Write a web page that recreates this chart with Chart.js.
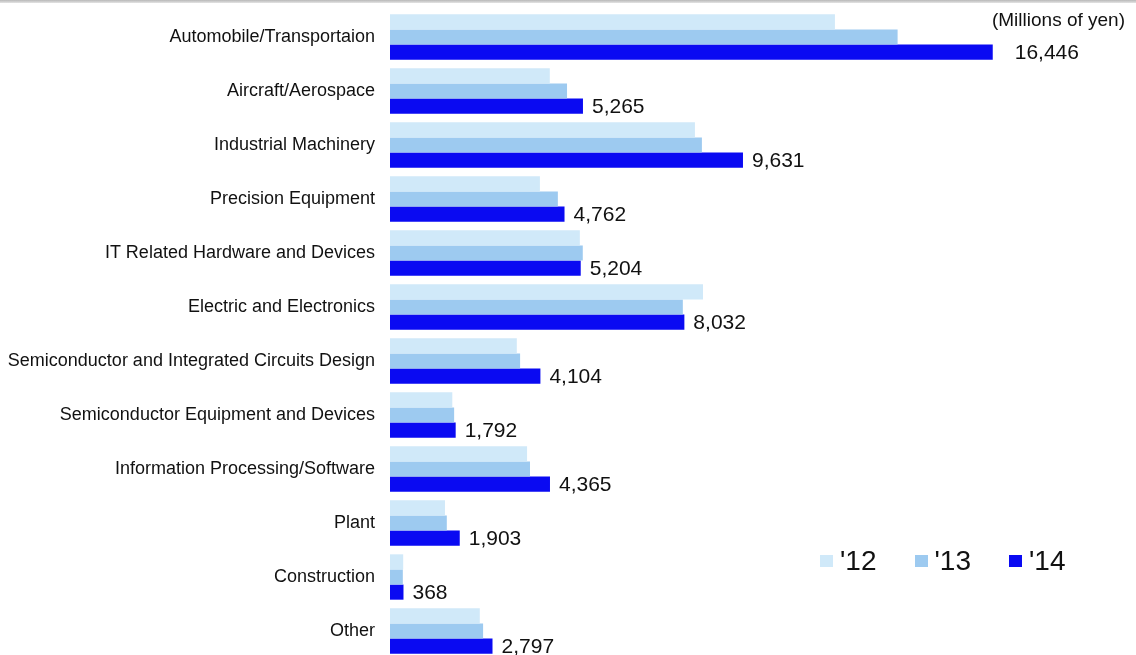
<!DOCTYPE html>
<html>
<head>
<meta charset="utf-8">
<title>Sales by industry</title>
<script src="https://cdn.jsdelivr.net/npm/chart.js@4.4.1/dist/chart.umd.min.js"></script>
<style>
  body { margin: 0; background: #fff; overflow: hidden; }
  #wrap { position: relative; width: 1136px; height: 655px; overflow: hidden; background: #fff; }
  #topline { position: absolute; left: 0; top: 0; width: 100%; height: 3px; background: linear-gradient(#b8b8b8, #e4e4e4); }
  #unit { position: absolute; right: 11px; top: 9px; font: 19px "Liberation Sans", Arial, sans-serif; color: #111; }
  #legend { position: absolute; left: 820px; top: 545px; display: flex; gap: 38px; font: 28px "Liberation Sans", Arial, sans-serif; color: #111; }
  #legend .item { display: flex; align-items: center; }
  #legend .box { width: 13px; height: 12px; margin-right: 7px; }
</style>
</head>
<body>
<div id="wrap">
  <canvas id="industryChart" width="1136" height="668"></canvas>
  <div id="topline"></div>
  <div id="unit">(Millions of yen)</div>
  <div id="legend"></div>
</div>
<script>
const industries = [
  'Automobile/Transportaion',
  'Aircraft/Aerospace',
  'Industrial Machinery',
  'Precision Equipment',
  'IT Related Hardware and Devices',
  'Electric and Electronics',
  'Semiconductor and Integrated Circuits Design',
  'Semiconductor Equipment and Devices',
  'Information Processing/Software',
  'Plant',
  'Construction',
  'Other'
];

const years = ["'12", "'13", "'14"];

// millions of yen
const sales12 = [12140, 4360, 8320, 4090, 5180, 8540, 3460, 1700, 3740, 1500, 360, 2450];
const sales13 = [13850, 4830, 8510, 4580, 5260, 7990, 3550, 1750, 3820, 1550, 350, 2540];
const sales14 = [16446, 5265, 9631, 4762, 5204, 8032, 4104, 1792, 4365, 1903, 368, 2797];

const barColors = ['#d0e9f9', '#9dcaf0', '#0a0af2'];

// numbers printed after the '14 bars
const valueLabels = {
  id: 'valueLabels',
  afterDatasetsDraw(chart) {
    const ctx = chart.ctx;
    const meta = chart.getDatasetMeta(2);
    ctx.save();
    ctx.font = '21px "Liberation Sans", Arial, sans-serif';
    ctx.fillStyle = '#111';
    ctx.textAlign = 'left';
    ctx.textBaseline = 'middle';
    meta.data.forEach((bar, i) => {
      const gap = i === 0 ? 22 : 9;
      ctx.fillText(sales14[i].toLocaleString('en-US'), bar.x + gap, bar.y + 1);
    });
    ctx.restore();
  }
};

const ctx = document.getElementById('industryChart').getContext('2d');
const chart = new Chart(ctx, {
  type: 'bar',
  data: {
    labels: industries,
    datasets: [sales12, sales13, sales14].map((data, i) => ({
      label: years[i],
      data,
      backgroundColor: barColors[i],
      borderWidth: 0,
      categoryPercentage: 0.84,
      barPercentage: 1.0
    }))
  },
  options: {
    indexAxis: 'y',
    responsive: false,
    animation: false,
    layout: { padding: { top: 10, bottom: 10, left: 0, right: 13 } },
    plugins: {
      legend: { display: false },
      tooltip: { enabled: false }
    },
    scales: {
      x: {
        display: false,
        min: 0,
        max: 20000
      },
      y: {
        grid: { display: false, drawTicks: false },
        border: { display: false },
        ticks: {
          padding: 15,
          color: '#111',
          font: { family: '"Liberation Sans", Arial, sans-serif', size: 18 }
        },
        afterFit(scale) {
          // fixed gutter for the category names, no extra label padding
          scale.width = 390;
          scale.paddingTop = 0;
          scale.paddingBottom = 0;
        }
      }
    }
  },
  plugins: [valueLabels]
});

// legend built from the datasets
const legendEl = document.getElementById('legend');
chart.data.datasets.forEach(ds => {
  const item = document.createElement('span');
  item.className = 'item';
  item.innerHTML = `<span class="box" style="background:${ds.backgroundColor}"></span>${ds.label}`;
  legendEl.appendChild(item);
});
</script>
</body>
</html>
